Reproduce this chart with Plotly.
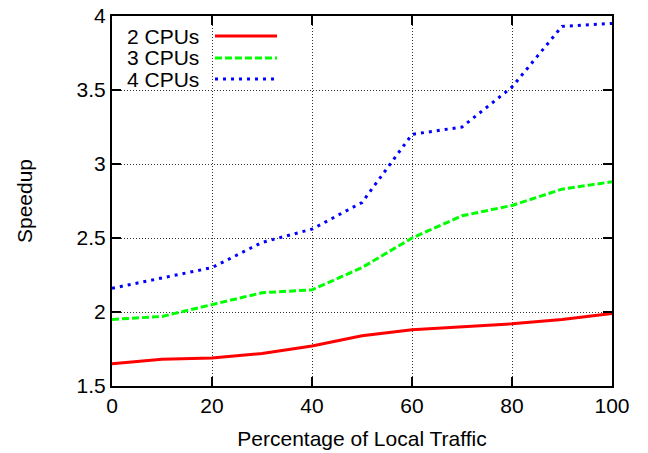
import plotly.graph_objects as go

# Data
traffic = [0, 10, 20, 30, 40, 50, 60, 70, 80, 90, 100]
cpu2 = [1.65, 1.68, 1.69, 1.72, 1.77, 1.84, 1.88, 1.90, 1.92, 1.95, 1.99]
cpu3 = [1.95, 1.97, 2.05, 2.13, 2.15, 2.30, 2.50, 2.65, 2.72, 2.83, 2.88]
cpu4 = [2.16, 2.23, 2.30, 2.47, 2.56, 2.74, 3.20, 3.25, 3.52, 3.93, 3.95]
series_names = ["2 CPUs", "3 CPUs", "4 CPUs"]
x_ticks = [0, 20, 40, 60, 80, 100]
y_ticks = [1.5, 2, 2.5, 3, 3.5, 4]
y_tick_labels = ["1.5", "2", "2.5", "3", "3.5", "4"]

W, H = 648, 453
L, R, T, B = 112, 36, 16, 67
pw, ph = W - L - R, H - T - B

colors = ["#ff0000", "#00ff00", "#0000ff"]
dashes = ["solid", "7px,3px", "3px,5px"]
FONT = "Liberation Sans, Arial, Helvetica, sans-serif"

fig = go.Figure()
for ys, name, c, d in zip([cpu2, cpu3, cpu4], series_names, colors, dashes):
    fig.add_trace(go.Scatter(x=traffic, y=ys, mode="lines", name=name,
                             line=dict(color=c, width=3, dash=d),
                             showlegend=False))

def px_x(p):
    return (p - L) / pw

def px_y(p):
    return (H - B - p) / ph

shapes = []
annotations = []
# legend background box
shapes.append(dict(type="rect", xref="paper", yref="paper", layer="between",
                   x0=px_x(113), x1=px_x(290), y0=px_y(88), y1=px_y(17),
                   fillcolor="white", line=dict(width=0)))
rows = [36, 58, 79]
for name, c, d, ry in zip(series_names, colors, dashes, rows):
    annotations.append(dict(xref="paper", yref="paper", x=px_x(201), y=px_y(ry),
                            xanchor="right", yanchor="middle", text=name,
                            showarrow=False, font=dict(size=21, color="black", family=FONT)))
    shapes.append(dict(type="line", xref="paper", yref="paper", layer="above",
                       x0=px_x(215), x1=px_x(277), y0=px_y(ry), y1=px_y(ry),
                       line=dict(color=c, width=3, dash=d)))

axis_common = dict(showline=True, linecolor="black", linewidth=2, mirror="ticks",
                   ticks="inside", ticklen=9, tickwidth=1.5, tickcolor="black",
                   showgrid=True, gridcolor="rgba(0,0,0,0.8)", gridwidth=1, griddash="1px,2px",
                   zeroline=False, automargin=False,
                   tickfont=dict(size=21, color="black", family=FONT))

fig.update_layout(
    width=W, height=H,
    margin=dict(l=L, r=R, t=T, b=B),
    paper_bgcolor="white", plot_bgcolor="white",
    font=dict(family=FONT, color="black", size=21),
    shapes=shapes, annotations=annotations,
    xaxis=dict(range=[0, 100], tickvals=x_ticks,
               title=dict(text="Percentage of Local Traffic", font=dict(size=21), standoff=15),
               **axis_common),
    yaxis=dict(range=[1.5, 4], tickvals=y_ticks, ticktext=y_tick_labels,
               title=dict(text="Speedup", font=dict(size=21), standoff=38),
               **axis_common),
)

fig.write_html("out.html", config={"displayModeBar": False},
               post_script="document.body.style.margin='0';document.body.style.overflow='hidden';")
